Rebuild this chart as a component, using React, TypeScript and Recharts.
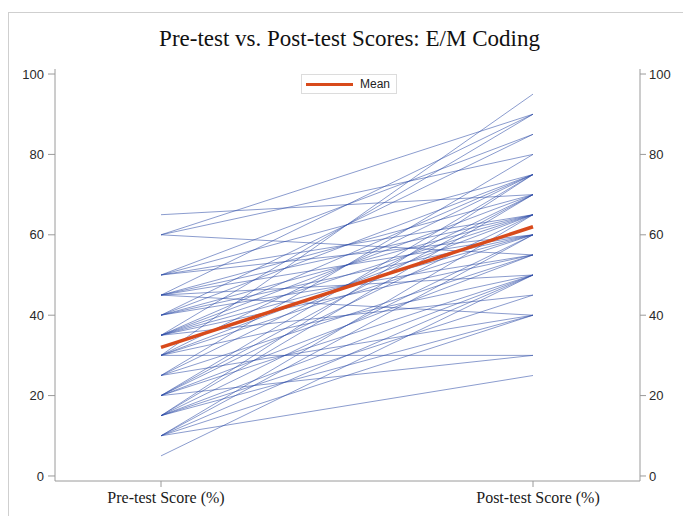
import { LineChart, Line, XAxis, YAxis } from "recharts";

const categories = ["Pre-test Score (%)", "Post-test Score (%)"];

// one entry per student: pre-test score and post-test score
const preScores = [
  65, 60, 60, 60, 50, 50, 50, 50, 45, 45, 45, 45, 45, 45, 40, 40, 40, 40, 40,
  35, 35, 35, 35, 35, 35, 35, 30, 30, 30, 30, 30, 30, 25, 25, 25, 25, 20, 20,
  20, 20, 20, 20, 15, 15, 15, 15, 15, 15, 10, 10, 10, 10, 10, 5,
];
const postScores = [
  70, 90, 80, 55, 85, 75, 65, 60, 90, 70, 65, 60, 50, 40, 85, 75, 65, 60, 55,
  90, 75, 70, 65, 60, 55, 45, 95, 75, 65, 60, 50, 30, 80, 70, 55, 40, 75, 70,
  65, 55, 50, 30, 75, 70, 60, 50, 45, 40, 65, 60, 50, 40, 25, 50,
];
const meanScores = [32, 62];
const yTicks = [0, 20, 40, 60, 80, 100];

const rows = categories.map((cat, c) => {
  const row: Record<string, string | number> = { cat, mean: meanScores[c] };
  preScores.forEach((p, i) => {
    row[`s${i}`] = c === 0 ? p : postScores[i];
  });
  return row;
});

const axisColor = "#9a9a9a";
const tickFont = { fontSize: 13, fill: "#2a2a2a", fontFamily: "Liberation Sans, Arial, sans-serif" };

export default function App() {
  return (
    <div
      style={{
        position: "fixed",
        left: 0,
        top: 0,
        width: 683,
        height: 516,
        overflow: "hidden",
        background: "#fff",
      }}
    >
      <div
        style={{
          position: "absolute",
          left: 8,
          top: 12,
          width: 700,
          height: 520,
          border: "1px solid #cfcfcf",
        }}
      />
      <div
        style={{
          position: "absolute",
          left: 0,
          top: 27,
          width: 699,
          textAlign: "center",
          fontFamily: "Liberation Serif, Times New Roman, serif",
          fontSize: 23,
          lineHeight: "24px",
          color: "#111",
        }}
      >
        Pre-test vs. Post-test Scores: E/M Coding
      </div>
      <div style={{ position: "absolute", left: 0, top: 0 }}>
        <LineChart
          width={683}
          height={516}
          data={rows}
          margin={{ top: 69, right: 3, bottom: 5, left: 15 }}
        >
          <XAxis
            dataKey="cat"
            padding={{ left: 106, right: 107 }}
            height={30}
            interval={0}
            stroke={axisColor}
            tickSize={6}
            tickMargin={5}
            tick={{ fontSize: 16, fill: "#1a1a1a", fontFamily: "Liberation Serif, Times New Roman, serif", dx: 5 }}
          />
          <XAxis
            xAxisId="top"
            dataKey="cat"
            orientation="top"
            height={0}
            tick={false}
            tickLine={false}
            stroke={axisColor}
          />
          <YAxis
            type="number"
            domain={[-1.25, 101.25]}
            ticks={yTicks}
            allowDataOverflow
            width={40}
            stroke={axisColor}
            tickSize={7}
            tickMargin={4}
            tick={tickFont}
          />
          <YAxis
            yAxisId="right"
            orientation="right"
            type="number"
            domain={[-1.25, 101.25]}
            ticks={yTicks}
            allowDataOverflow
            width={40}
            stroke={axisColor}
            tickSize={6}
            tickMargin={3}
            tick={tickFont}
          />
          {preScores.map((_, i) => (
            <Line
              key={i}
              type="linear"
              dataKey={`s${i}`}
              stroke="#2b4aa6"
              strokeOpacity={0.55}
              strokeWidth={1}
              dot={false}
              isAnimationActive={false}
            />
          ))}
          <Line
            type="linear"
            dataKey="mean"
            name="Mean"
            stroke="#d84a1b"
            strokeWidth={3.5}
            dot={false}
            isAnimationActive={false}
          />
        </LineChart>
      </div>
      <div
        style={{
          position: "absolute",
          left: 301,
          top: 74,
          width: 94,
          height: 18,
          border: "1px solid #dcdcdc",
          background: "#fff",
          display: "flex",
          alignItems: "center",
          fontFamily: "Liberation Sans, Arial, sans-serif",
          fontSize: 12,
          color: "#222",
        }}
      >
        <span
          style={{
            display: "inline-block",
            width: 47,
            height: 3,
            background: "#d84a1b",
            marginLeft: 4,
            marginRight: 7,
          }}
        />
        Mean
      </div>
    </div>
  );
}
